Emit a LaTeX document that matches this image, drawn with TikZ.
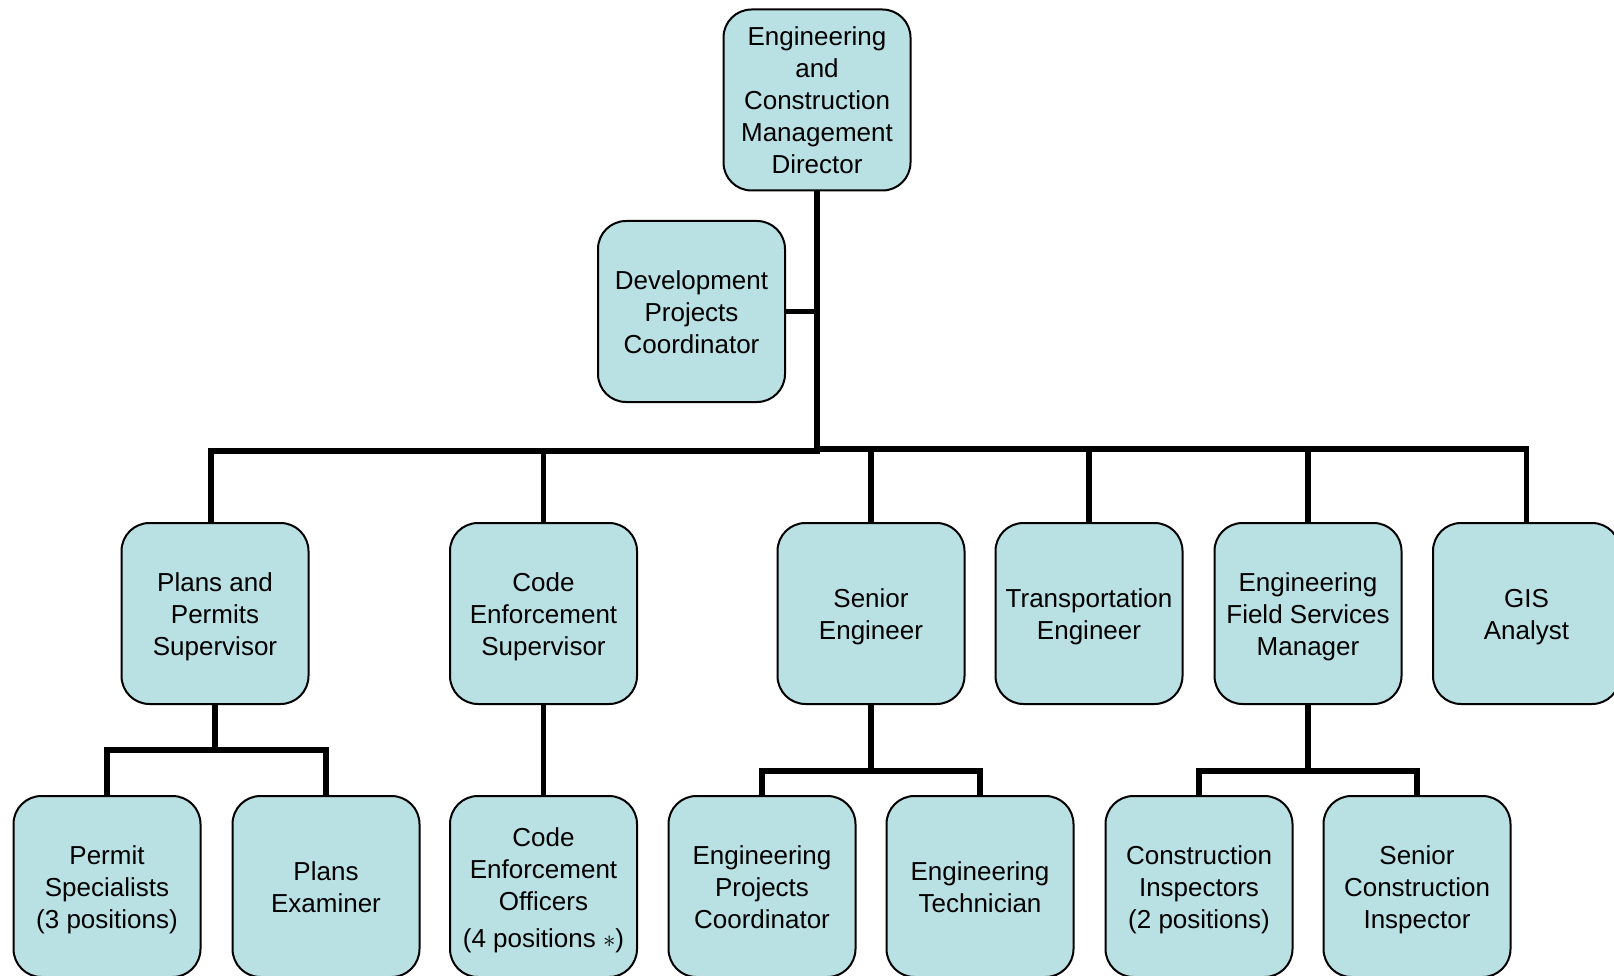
\documentclass[tikz,border=0pt]{standalone}
\usepackage{fontspec}
\setmainfont{Liberation Sans}
\usetikzlibrary{backgrounds}
\definecolor{boxfill}{RGB}{185,224,227}
\tikzset{
  orgbox/.style={draw=black, line width=2pt, fill=boxfill, rounded corners=28pt,
    minimum width=187pt, minimum height=181pt, inner sep=0pt, align=center,
    font=\fontsize{26}{32}\selectfont, text depth=6pt},
  twol/.style={text height=58pt},
  threel/.style={text height=90pt},
  fourl/.style={text height=127pt},
  fivel/.style={text height=154pt},
  conn/.style={draw=black, line width=5.5pt, line cap=rect}
}
\begin{document}
\begin{tikzpicture}[x=1pt,y=-1pt]
\useasboundingbox (0,0) rectangle (1614,976);
% nodes
\node[orgbox,fivel] (top) at (817,100) {Engineering\\and\\Construction\\Management\\Director};
\node[orgbox,threel] (dev) at (691.5,311.5) {Development\\Projects\\Coordinator};
\node[orgbox,threel] (plans) at (215,613.5) {Plans and\\Permits\\Supervisor};
\node[orgbox,threel] (code) at (543.5,613.5) {Code\\Enforcement\\Supervisor};
\node[orgbox,twol] (senior) at (871,613.5) {Senior\\Engineer};
\node[orgbox,twol] (trans) at (1089,613.5) {Transportation\\Engineer};
\node[orgbox,threel] (efsm) at (1308,613.5) {Engineering\\Field Services\\Manager};
\node[orgbox,twol] (gis) at (1526.5,613.5) {GIS\\Analyst};
\node[orgbox,threel] (permit) at (107,886.5) {Permit\\Specialists\\(3 positions)};
\node[orgbox,twol] (plansex) at (326,886.5) {Plans\\Examiner};
\node[orgbox,fourl] (ceo) at (543.5,886.5) {Code\\Enforcement\\Officers\\[5pt](4 positions $\ast$)};
\node[orgbox,threel] (epc) at (762,886.5) {Engineering\\Projects\\Coordinator};
\node[orgbox,twol] (etech) at (980,886.5) {Engineering\\Technician};
\node[orgbox,threel] (ci) at (1199,886.5) {Construction\\Inspectors\\(2 positions)};
\node[orgbox,threel] (sci) at (1417,886.5) {Senior\\Construction\\Inspector};
% bus coordinates
\coordinate (busL) at (0,451);
\coordinate (busR) at (0,449);
\coordinate (busA) at (0,750);
\coordinate (busB) at (0,771);
% connectors
\begin{scope}[on background layer]
\draw[conn] (top.south) -- (top.south |- busL);
\draw[conn] (dev.east) -- (dev.east -| top.south);
\draw[conn] ([xshift=-4pt]plans.north) -- ([xshift=-4pt]plans.north |- busL) -- (top.south |- busL);
\draw[conn] (code.north) -- (code.north |- busL);
\draw[conn] (gis.north) -- (gis.north |- busR) -- (top.south |- busR);
\draw[conn] (senior.north) -- (senior.north |- busR);
\draw[conn] (trans.north) -- (trans.north |- busR);
\draw[conn] (efsm.north) -- (efsm.north |- busR);
% plans subtree
\draw[conn] (plans.south) -- (plans.south |- busA);
\draw[conn] (permit.north) -- (permit.north |- busA) -- (plansex.north |- busA) -- (plansex.north);
% code subtree
\draw[conn] (code.south) -- (ceo.north);
% senior subtree
\draw[conn] (senior.south) -- (senior.south |- busB);
\draw[conn] (epc.north) -- (epc.north |- busB) -- (etech.north |- busB) -- (etech.north);
% efsm subtree
\draw[conn] (efsm.south) -- (efsm.south |- busB);
\draw[conn] (ci.north) -- (ci.north |- busB) -- (sci.north |- busB) -- (sci.north);
\end{scope}
\end{tikzpicture}
\end{document}
